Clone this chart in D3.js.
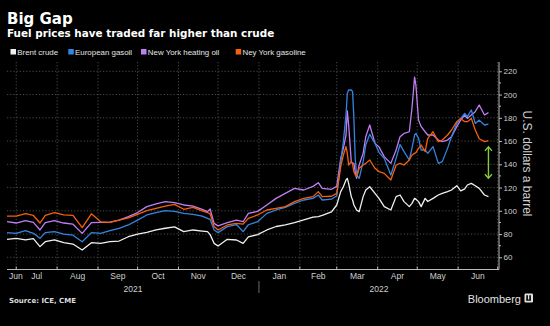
<!DOCTYPE html>
<html><head><meta charset="utf-8">
<script src="https://cdn.jsdelivr.net/npm/d3@7"></script>
<style>html,body{margin:0;padding:0;background:#000;}svg{display:block}</style>
</head><body><svg id="c" width="550" height="326"></svg>
<script>
const dates = ["2021-06-24","2021-07-01","2021-07-08","2021-07-14","2021-07-19","2021-07-23","2021-07-30","2021-08-06","2021-08-13","2021-08-20",
"2021-08-27","2021-09-03","2021-09-10","2021-09-17","2021-09-24","2021-10-01","2021-10-08","2021-10-15","2021-10-22","2021-10-29",
"2021-11-05","2021-11-12","2021-11-19","2021-11-23","2021-11-25","2021-11-28","2021-12-01","2021-12-08","2021-12-15","2021-12-20",
"2021-12-24","2021-12-31","2022-01-07","2022-01-14","2022-01-21","2022-01-28","2022-02-04","2022-02-11","2022-02-15","2022-02-18",
"2022-02-25","2022-03-01","2022-03-04","2022-03-06","2022-03-08","2022-03-09","2022-03-10","2022-03-12","2022-03-13","2022-03-14",
"2022-03-15","2022-03-16","2022-03-18","2022-03-21","2022-03-23","2022-03-26","2022-03-30","2022-04-02","2022-04-06","2022-04-11",
"2022-04-15","2022-04-18","2022-04-21","2022-04-25","2022-04-27","2022-04-29","2022-04-30","2022-05-02","2022-05-04","2022-05-07",
"2022-05-09","2022-05-13","2022-05-17","2022-05-20","2022-05-24","2022-05-27","2022-05-31","2022-06-03","2022-06-06","2022-06-08",
"2022-06-11","2022-06-14","2022-06-17","2022-06-21","2022-06-24"];

const brentCrude = [75.5,76.3,74.9,76,69.2,73.4,75,72.6,71.4,66.3,
72.6,72,73.4,74,77.7,80,81.5,83.5,85,86.2,
82.1,83.5,82.6,82.1,79.5,72,69.7,75.5,74.9,72,
77.5,79.5,83.5,86.5,87.8,89.8,92.1,94.5,95,96,
99,105,116.5,120.7,126.5,127.9,123.6,112.2,109.3,105,
103,100.7,99.3,112.2,117.9,120.7,115,110.7,103.6,100.7,
112.2,113.6,107.9,103.6,106.4,110.7,110,107.9,103.6,110.7,
108,110.7,113.6,115,116.5,117.9,121.6,117.1,118.8,122.2,
123.6,121.6,119.3,113.6,112.2];

const europeanGasoil = [81.2,80.6,82.9,80.6,76.3,81.2,82,80,79,73.4,
81.2,80.6,82.9,84.9,87.8,92,96.4,98.5,100.1,99.5,
97.8,97,95.5,93.5,92.7,83.5,81.2,86.4,88.2,82.1,
88,90.6,97.8,100.7,103,106.4,109.3,110.7,113.6,109.3,
110,113,142.3,159.5,182.4,201,203.9,203.9,202.5,179.5,
145,130.8,127.9,142.3,156.6,165.8,158,150.3,145.1,130.8,
145.1,157,150.9,143.7,153.7,165.2,166.6,162.3,152.3,152.3,
149.4,155.2,140.8,142.3,153.7,163.8,175.2,179.5,183.8,181,
186.7,175.2,178,173.8,174.5];

const nyHeatingOil = [90.6,89.5,91.5,90,83.5,89.8,91.5,89.5,88.5,80.6,
89.8,90,90.3,92,95,98.5,103.6,106,107.9,107,
105,104,101.3,99.3,101.5,89.2,87,89.8,92,90.6,
97.8,99.5,105,110.7,115,119.3,117.9,121,124.2,119.3,
118.5,121,145,153.7,165,186,174,142.3,141,140.8,
134,128,139.4,149.4,163.8,173.8,158,155,146.6,140.8,
152.3,163.8,166.6,168,188,215,208,178,172.4,168,
165.2,165.2,160.9,159.5,160.9,163.8,172.4,178.1,182.4,179.5,
182.4,185.3,191,182.4,184.4];

const nyGasoline = [95.5,95.5,97.5,96,89.5,96,98.4,96.5,96,85.5,
97.4,90.5,90,92,94,97,100.1,102.1,104.1,105.5,
101.3,103,100,98.4,97.5,86.4,83.5,87.8,89.2,88.5,
93.5,96.4,100.7,102.1,103.6,107.9,110.7,112.2,116.5,112.2,
112.5,115,138,148,155.2,149.4,139.4,142.3,140,133.7,
131,129.4,136.5,139.4,140.8,143.7,136.5,133.7,132.2,126.5,
139.4,140.8,139.4,143.7,148,149.4,150,153.7,156.6,150.9,
162.3,168,159.5,160.9,165.2,169.5,176.7,179.5,176.7,176.7,
179.5,169.5,162,159.5,160.3];

const seriesNames = ["Brent crude","European gasoil","New York heating oil","Ney York gasoline"];
const seriesColors = ["#f0f0f0","#3485e2","#c07ef5","#f5600c"];
const yTicks = [60,80,100,120,140,160,180,200,220];
const monthStarts = ["2021-06-01","2021-07-01","2021-08-01","2021-09-01","2021-10-01","2021-11-01","2021-12-01",
"2022-01-01","2022-02-01","2022-03-01","2022-04-01","2022-05-01","2022-06-01","2022-07-01"];
const monthLabels = ["Jun","Jul","Aug","Sep","Oct","Nov","Dec","Jan","Feb","Mar","Apr","May","Jun"];
const yearStarts = ["2021-01-01","2022-01-01"];
const yearLabels = ["2021","2022"];
const arrowDate = ["2022-06-24"];
const arrowRange = [128,155];

const parse = d3.timeParse("%Y-%m-%d");
const svg = d3.select("#c");
const W = 550, H = 326;
const L = 7, R = 499, T = 62, B = 269.5;

svg.append("rect").attr("width",W).attr("height",H).attr("fill","#000");

const x = d3.scaleTime().domain([parse("2021-06-24"), parse("2022-07-02")]).range([L, R]);
const y = d3.scaleLinear().domain([60,220]).range([257.3, 71.3]);

// titles
svg.append("text").attr("x",7).attr("y",24).text("Big Gap")
  .attr("font-family","DejaVu Sans").attr("font-weight","bold").attr("font-size",15).attr("fill","#fff");
svg.append("text").attr("x",7).attr("y",37).text("Fuel prices have traded far higher than crude")
  .attr("font-family","DejaVu Sans").attr("font-weight","bold").attr("font-size",10.4).attr("fill","#fff");

// legend
const legX = [10.5, 68.3, 141, 235.7];
seriesNames.forEach((n,i)=>{
  svg.append("rect").attr("x",legX[i]).attr("y",49).attr("width",5.5).attr("height",5.5).attr("fill",seriesColors[i]);
  svg.append("text").attr("x",legX[i]+6.8).attr("y",52.2).attr("dominant-baseline","central")
    .attr("font-family","Liberation Sans, Arial").attr("font-size",7.9).attr("fill","#e4e4e4").text(n);
});

// grid
const g = svg.append("g");
g.selectAll("line.h").data(yTicks).join("line")
  .attr("x1",L).attr("x2",R).attr("y1",d=>y(d)).attr("y2",d=>y(d))
  .attr("stroke","#5e5e5e").attr("stroke-width",0.8).attr("stroke-dasharray","1.2,2");
const ms = monthStarts.map(parse);
g.selectAll("line.v").data(ms.filter(d=>d>x.domain()[0] && d<x.domain()[1])).join("line")
  .attr("x1",d=>x(d)).attr("x2",d=>x(d)).attr("y1",T).attr("y2",B)
  .attr("stroke","#5e5e5e").attr("stroke-width",0.8).attr("stroke-dasharray","1.2,2");

// series
const allSeries = [brentCrude, europeanGasoil, nyHeatingOil, nyGasoline];
const order = [0,2,1,3];
const line = d3.line().x(d=>x(d[0])).y(d=>y(d[1])).curve(d3.curveLinear);
order.forEach(i=>{
  const pts = dates.map((d,k)=>[parse(d), allSeries[i][k]]);
  svg.append("path").attr("d",line(pts)).attr("fill","none").attr("stroke",seriesColors[i])
    .attr("stroke-width",1.3).attr("stroke-linejoin","round");
});

// gap arrow
const ax = x(parse(arrowDate[0]));
const ay1 = y(arrowRange[1]), ay2 = y(arrowRange[0]);
const ag = svg.append("g").attr("stroke","#86cc3a").attr("stroke-width",1.4).attr("fill","none");
ag.append("line").attr("x1",ax).attr("x2",ax).attr("y1",ay1+0.5).attr("y2",ay2-0.5);
ag.append("path").attr("d",`M${ax-3.5},${ay1+4}L${ax},${ay1}L${ax+3.5},${ay1+4}`);
ag.append("path").attr("d",`M${ax-3.5},${ay2-4}L${ax},${ay2}L${ax+3.5},${ay2-4}`);

// right axis
const yAxis = d3.axisRight(y).tickValues(yTicks).tickSize(3).tickPadding(1.5);
const ya = svg.append("g").attr("transform",`translate(${R},0)`).call(yAxis);
ya.select(".domain").remove();
ya.selectAll("line").attr("stroke","#bbb");
ya.selectAll("text").attr("font-family","Liberation Sans, Arial").attr("font-size",8).attr("fill","#cfcfcf");
svg.append("g").selectAll("line").data(d3.range(70,221,20)).join("line")
  .attr("x1",R).attr("x2",R+2).attr("y1",d=>y(d)).attr("y2",d=>y(d)).attr("stroke","#bbb");
svg.append("line").attr("x1",R).attr("x2",R).attr("y1",T).attr("y2",B).attr("stroke","#bbb").attr("stroke-width",1);
svg.append("text").attr("transform",`translate(527,163.5) rotate(90)`).attr("text-anchor","middle")
  .attr("dominant-baseline","central").attr("font-family","Liberation Sans, Arial").attr("font-size",12)
  .attr("fill","#d0d0d0").text("U.S. dollars a barrel");

// bottom axis
svg.append("line").attr("x1",L).attr("x2",R).attr("y1",B).attr("y2",B).attr("stroke","#bbb").attr("stroke-width",1);
svg.append("g").selectAll("line").data(ms.filter(d=>d>x.domain()[0] && d<x.domain()[1])).join("line")
  .attr("x1",d=>x(d)).attr("x2",d=>x(d)).attr("y1",B-3).attr("y2",B).attr("stroke","#bbb");
monthLabels.forEach((lab,i)=>{
  const a = ms[i], b = ms[i+1];
  let cx, anchor = "middle";
  if (a < x.domain()[0]) { cx = L + 2; anchor = "start"; }
  else cx = (x(a)+Math.min(x(b),R))/2;
  svg.append("text").attr("x",cx).attr("y",279).attr("text-anchor",anchor)
    .attr("font-family","Liberation Sans, Arial").attr("font-size",8.5).attr("fill","#cfcfcf").text(lab);
});
const ys = yearStarts.map(parse);
const sepX = x(ys[1]);
svg.append("line").attr("x1",sepX).attr("x2",sepX).attr("y1",281).attr("y2",293).attr("stroke","#888").attr("stroke-width",0.8);
[[L,sepX],[sepX,R]].forEach((r,i)=>{
  svg.append("text").attr("x",(r[0]+r[1])/2).attr("y",291.5).attr("text-anchor","middle")
    .attr("font-family","Liberation Sans, Arial").attr("font-size",8.5).attr("fill","#cfcfcf").text(yearLabels[i]);
});

// footer
svg.append("text").attr("x",9).attr("y",302.8).text("Source: ICE, CME")
  .attr("font-family","DejaVu Sans").attr("font-weight","bold").attr("font-size",7).attr("fill","#ddd");
svg.append("text").attr("x",521).attr("y",302.5).attr("text-anchor","end").text("Bloomberg")
  .attr("font-family","Liberation Sans, Arial").attr("font-size",11).attr("fill","#e0e0e0");
svg.append("rect").attr("x",524.5).attr("y",293.5).attr("width",8.5).attr("height",9).attr("rx",1.2).attr("fill","#e0e0e0");
svg.append("rect").attr("x",526.3).attr("y",295.2).attr("width",1.6).attr("height",5).attr("fill","#000");
svg.append("rect").attr("x",529.3).attr("y",295.2).attr("width",1.6).attr("height",5).attr("fill","#000");
svg.append("rect").attr("x",526.3).attr("y",299.5).attr("width",4.6).attr("height",1.2).attr("fill","#000");
</script></body></html>
